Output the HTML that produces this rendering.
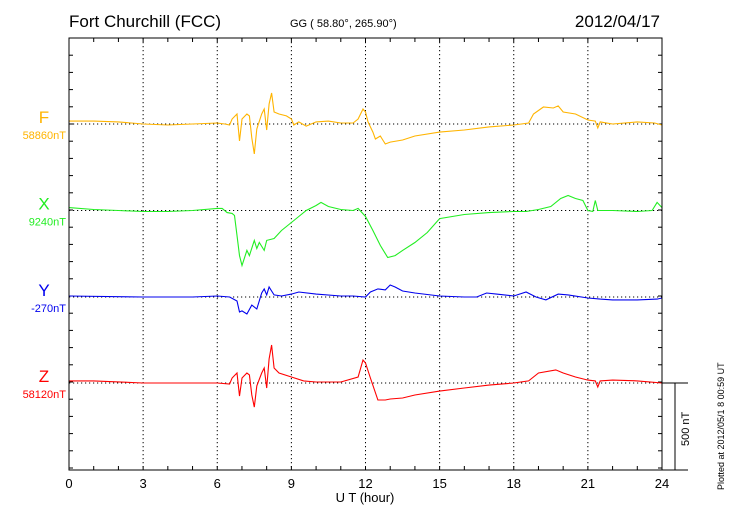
<!DOCTYPE html>
<html><head><meta charset="utf-8"><style>
body{margin:0;background:#fff;}
svg{display:block;font-family:"Liberation Sans",sans-serif;}
</style></head><body>
<svg id="chart" width="730" height="520" viewBox="0 0 730 520">
<text x="69" y="27" font-size="17">Fort Churchill (FCC)</text>
<text x="290" y="27" font-size="11">GG ( 58.80°, 265.90°)</text>
<text x="660" y="27" font-size="17" text-anchor="end">2012/04/17</text>
<text x="365" y="502" font-size="13" text-anchor="middle">U T (hour)</text>
<text transform="translate(724,490) rotate(-90)" font-size="9">Plotted at 2012/05/1 8 00:59 UT</text>
<text transform="translate(689,446) rotate(-90)" font-size="11">500 nT</text>
<g id="grid"></g><g id="series"></g><g id="labels"></g>
<rect x="69" y="38" width="593" height="432" fill="none" stroke="#000" stroke-width="1"/>
</svg>
<script>
const xTicks=[0,3,6,9,12,15,18,21,24];
const names=['F','X','Y','Z'];
const colors=['#ffb400','#22ee22','#0000ee','#ff0000'];
const baseLabels=['58860nT','9240nT','-270nT','58120nT'];
const fH=[0,1,2,3,4,5,6,6.3,6.5,6.6,6.8,6.9,7,7.2,7.3,7.4,7.5,7.6,7.8,7.9,8,8.1,8.2,8.3,8.5,8.8,9,9.1,9.3,9.6,10,10.5,11,11.5,11.7,11.9,12,12.1,12.3,12.4,12.6,12.8,13,13.5,14,15,16,17,18,18.6,18.8,19.2,19.6,19.8,20,20.5,21,21.3,21.4,21.5,22,23,23.7,24];
const fV=[17,17,12,0,-6,0,6,0,-6,29,58,-99,29,58,47,-81,-174,-29,58,87,-35,116,180,70,58,47,29,-6,12,-12,12,17,6,6,29,87,70,12,-47,-87,-70,-116,-105,-93,-70,-47,-35,-17,-6,6,58,99,93,105,70,58,23,17,-23,12,0,12,6,-6];
const xH=[0,1,2,3,4,5,6,6.2,6.4,6.6,6.7,6.8,6.9,7,7.2,7.3,7.5,7.6,7.7,7.9,8,8.3,8.6,9,9.3,9.6,10,10.2,10.5,11,11.5,11.7,12,12.3,12.6,12.9,13.2,13.5,14,14.5,15,16,17,18,18.5,19,19.5,19.9,20.2,20.5,20.8,21,21.2,21.3,21.4,22,23,23.6,23.8,24];
const xV=[17,6,0,-6,-6,0,12,12,-12,-17,-29,-145,-262,-320,-232,-262,-174,-221,-186,-232,-174,-163,-116,-70,-35,0,29,47,23,6,0,12,-35,-116,-203,-273,-262,-232,-186,-128,-47,-23,-12,-6,-6,6,23,70,87,70,58,0,-6,58,0,0,-6,0,47,17];
const yH=[0,3,5,6,6.5,6.8,6.9,7,7.2,7.4,7.6,7.8,7.9,8,8.1,8.2,8.3,8.6,9,9.3,10,11,11.5,12,12.2,12.5,12.8,13,13.2,13.5,14,15,16,16.5,16.9,17.3,18,18.5,18.9,19.3,19.8,20.2,21,21.5,22,23,23.8,24];
const yV=[6,0,0,6,0,-23,-87,-81,-99,-47,-70,23,47,12,58,35,12,6,17,29,17,6,6,0,29,47,41,70,58,35,23,6,0,0,23,17,6,29,0,-17,17,12,-6,-12,-17,-17,-12,-6];
const zH=[0,1,3,6,6.5,6.6,6.8,6.9,7,7.2,7.3,7.4,7.5,7.6,7.8,7.9,8,8.1,8.2,8.3,8.5,9,9.5,10,11,11.7,11.9,12,12.2,12.5,12.8,13,13.5,14,15,16,17,18,18.6,19,19.7,20,20.5,21,21.3,21.4,21.5,22,23,24];
const zV=[12,12,0,0,-6,29,58,-76,29,58,47,-70,-140,-17,58,87,-29,140,221,87,58,35,12,6,6,35,134,116,29,-99,-99,-93,-87,-70,-47,-29,-12,0,12,58,76,58,35,17,12,-23,12,17,12,0];
const hours=[fH,xH,yH,zH], vals=[fV,xV,yV,zV];
const bases=[124,210.5,297,383];
const X0=69,X1=662,Y0=38,Y1=470,PX=86/500;
const sx=h=>X0+(X1-X0)*h/24;
const sy=(i,v)=>bases[i]-v*PX;
const NS='http://www.w3.org/2000/svg';
const grid=document.getElementById('grid'),ser=document.getElementById('series'),lab=document.getElementById('labels');
function mk(tag,a,p){const e=document.createElementNS(NS,tag);for(const k in a)e.setAttribute(k,a[k]);p.appendChild(e);return e;}
for(let h=0;h<=24;h++){
 const x=sx(h);
 const t=mk('line',{x1:x,x2:x,y1:Y0,y2:Y0+4,stroke:'#000'},grid);
 
 
 const b=mk('line',{x1:x,x2:x,y1:Y1,y2:Y1-4,stroke:'#000'},grid);
 
 
}
xTicks.forEach(h=>{
 const x=sx(h);
 if(h>0&&h<24){const g=mk('line',{x1:x,x2:x,y1:Y0,y2:Y1,stroke:'#000','stroke-dasharray':'1.2,2.8'},grid);
 
 }
 const t=mk('text',{x:x,y:488,'font-size':13,'text-anchor':'middle'},lab);t.textContent=h;
 
 
});
for(let y=Y0+17.2;y<Y1-1;y+=17.2){
 const l=mk('line',{x1:X0,x2:X0+4,y1:y,y2:y,stroke:'#000'},grid);
 
 
 const r=mk('line',{x1:X1,x2:X1-4,y1:y,y2:y,stroke:'#000'},grid);
 
 
}
bases.forEach((b,i)=>{
 const g=mk('line',{x1:X0,x2:X1,y1:b,y2:b,stroke:'#000','stroke-dasharray':'1.2,2.8'},grid);
 
 
 const pts=hours[i].map((h,j)=>sx(h).toFixed(1)+','+sy(i,vals[i][j]).toFixed(1)).join(' ');
 const p=mk('polyline',{points:pts,fill:'none',stroke:colors[i],'stroke-width':1.1},ser);
 
 
 const t=mk('text',{x:44,y:b-1,'font-size':17,fill:colors[i],'text-anchor':'middle'},lab);t.textContent=names[i];
 
 
 const v=mk('text',{x:66,y:b+15,'font-size':11,fill:colors[i],'text-anchor':'end'},lab);v.textContent=baseLabels[i];
 
 
});
const s1=mk('line',{x1:X1,x2:688,y1:383,y2:383,stroke:'#000'},grid);


const s2=mk('line',{x1:675,x2:675,y1:383,y2:Y1,stroke:'#000'},grid);


const s3=mk('line',{x1:X1,x2:688,y1:Y1,y2:Y1,stroke:'#000'},grid);


</script>
</body></html>
